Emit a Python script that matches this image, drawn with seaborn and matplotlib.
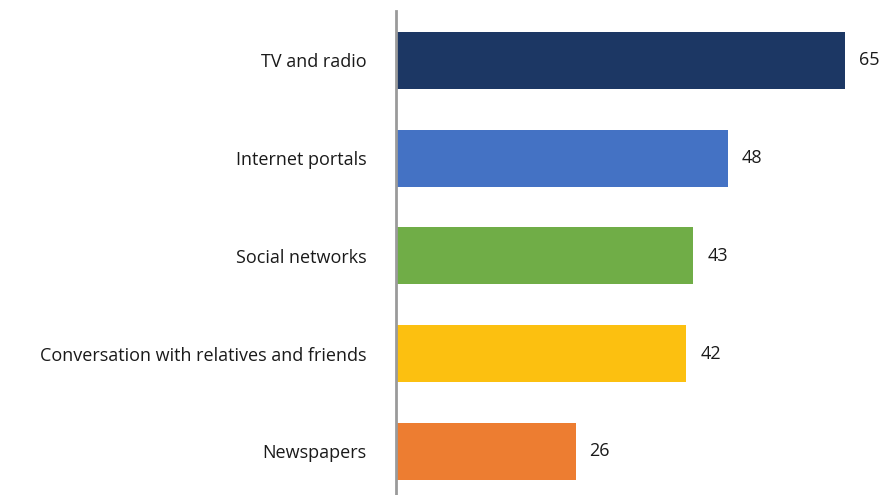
import matplotlib
matplotlib.use("Agg")
import matplotlib.pyplot as plt
import seaborn as sns
import pandas as pd

categories = ["TV and radio", "Internet portals", "Social networks",
              "Conversation with relatives and friends", "Newspapers"]
values = [65, 48, 43, 42, 26]
colors = ["#1C3764", "#4472C4", "#70AD47", "#FCC010", "#ED7D31"]

sns.set_theme(style="white")
plt.rcParams["font.family"] = ["Open Sans", "DejaVu Sans"]

df = pd.DataFrame({"category": categories, "value": values})

fig = plt.figure(figsize=(8.8, 4.95), dpi=100)
ax = fig.add_axes([396 / 880, 0.0, 1 - 396 / 880, 1 - 11 / 495])

sns.barplot(data=df, y="category", x="value", hue="category",
            palette=colors, order=categories, hue_order=categories,
            width=0.583, orient="h", legend=False, ax=ax,
            edgecolor="none", saturation=1)

ax.set_xlim(0, 70)
ax.set_ylim(4.445, -0.506)
ax.set_xlabel("")
ax.set_ylabel("")
ax.set_xticks([])
for side in ("top", "right", "bottom"):
    ax.spines[side].set_visible(False)
ax.spines["left"].set_color("#9A9A9A")
ax.spines["left"].set_linewidth(2)
ax.tick_params(axis="y", length=0, pad=21, labelsize=13, labelcolor="#1a1a1a")

for i, v in enumerate(values):
    ax.text(v + 2.0, i, f"{v}", va="center", ha="left",
            fontsize=13, color="#1a1a1a")

fig.savefig("out.png", dpi=100)
